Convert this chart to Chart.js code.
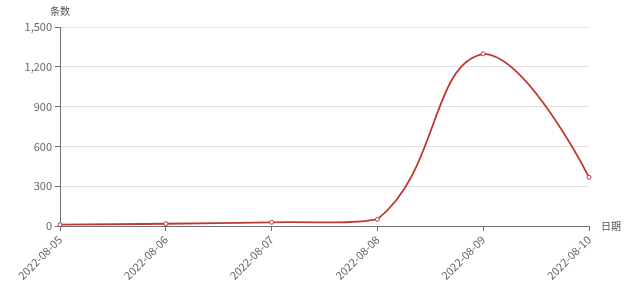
<!DOCTYPE html>
<html><head><meta charset="utf-8">
<script src="https://cdn.jsdelivr.net/npm/chart.js@4/dist/chart.umd.min.js"></script>
<style>html,body{margin:0;padding:0;background:#fff}#wrap{width:640px;height:291px}</style>
</head><body><div id="wrap"><canvas id="c" width="640" height="291"></canvas></div>
<script>
const categories = ['2022-08-05','2022-08-06','2022-08-07','2022-08-08','2022-08-09','2022-08-10'];
const counts = [10, 17, 28, 50, 1298, 367];
const yTicks = [0, 300, 600, 900, 1200, 1500];
const yAxisName = '条数';
const xAxisName = '日期';

const FONT = '"Noto Sans CJK SC", "Noto Sans", sans-serif';
const axisNames = {
  id: 'axisNames',
  afterDraw(chart) {
    const ctx = chart.ctx, a = chart.chartArea;
    ctx.save();
    ctx.fillStyle = '#555';
    ctx.font = '10px ' + FONT;
    ctx.textAlign = 'center';
    ctx.textBaseline = 'middle';
    ctx.fillText(yAxisName, a.left, 11);
    ctx.textAlign = 'left';
    ctx.fillText(xAxisName, a.right + 12, a.bottom);
    ctx.restore();
  }
};
// keep bezier control points within the data's vertical range (no overshoot past the peak),
// and anchor the end points' control points on the points themselves
const clampCurve = {
  id: 'clampCurve',
  beforeDatasetsDraw(chart) {
    chart.getSortedVisibleDatasetMetas().forEach(meta => {
      const pts = meta.data;
      const ys = pts.map(p => p.y);
      const lo = Math.min(...ys), hi = Math.max(...ys);
      pts.forEach(p => {
        if (p.cp1y !== undefined) p.cp1y = Math.min(hi, Math.max(lo, p.cp1y));
        if (p.cp2y !== undefined) p.cp2y = Math.min(hi, Math.max(lo, p.cp2y));
      });
      const first = pts[0], last = pts[pts.length - 1];
      first.cp2x = first.x; first.cp2y = first.y;
      last.cp1x = last.x; last.cp1y = last.y;
    });
  }
};

new Chart(document.getElementById('c'), {
  type: 'line',
  data: {
    labels: categories,
    datasets: [{
      data: counts,
      borderColor: '#c23531',
      borderWidth: 1.8,
      backgroundColor: '#fff',
      pointBackgroundColor: '#fff',
      pointBorderColor: '#c23531',
      pointBorderWidth: 1,
      pointRadius: 2,
      tension: 0.45,
      fill: false
    }]
  },
  options: {
    responsive: false,
    animation: false,
    devicePixelRatio: 1,
    layout: { padding: { top: 27, right: 51, left: 0, bottom: 0 } },
    plugins: { legend: { display: false }, tooltip: { enabled: false } },
    scales: {
      x: {
        offset: false,
        grid: { display: true, drawOnChartArea: false, drawTicks: true, tickLength: 5, color: '#6E7079' },
        border: { display: true, color: '#6E7079', width: 1 },
        ticks: { color: '#666', font: { size: 11, family: FONT }, maxRotation: 45, minRotation: 45, autoSkip: false, padding: 2 },
        afterFit(s) { s.height = 65; }
      },
      y: {
        min: 0, max: 1500,
        afterBuildTicks(s) { s.ticks = yTicks.map(v => ({ value: v })); },
        grid: { color: '#e0e0e0', drawTicks: true, tickLength: 5, tickColor: '#6E7079' },
        border: { display: true, color: '#6E7079', width: 1 },
        ticks: {
          color: '#666', font: { size: 11, family: FONT }, padding: 3,
          callback: v => v.toLocaleString('en-US')
        },
        afterFit(s) { s.width = 60; }
      }
    }
  },
  plugins: [axisNames, clampCurve]
});
</script></body></html>
